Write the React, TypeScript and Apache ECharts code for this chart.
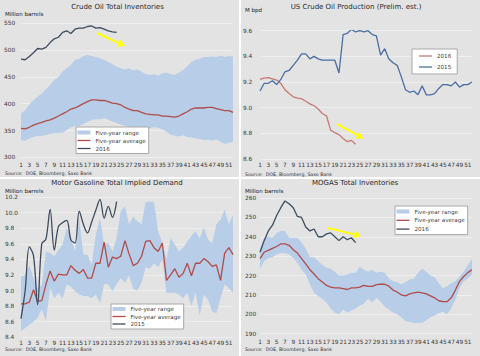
import React, { useEffect, useRef } from "react";
import * as echarts from "echarts";

const weeks = ["1","2","3","4","5","6","7","8","9","10","11","12","13","14","15","16","17","18","19","20","21","22","23","24","25","26","27","28","29","30","31","32","33","34","35","36","37","38","39","40","41","42","43","44","45","46","47","48","49","50","51","52"];

// Panel 1: Crude Oil Total Inventories (million barrels)
const crude2016 = [483, 482, 488, 495, 503, 502, 505, 514, 521, 524, 533, 536, 531, 539, 541, 541, 544, 545, 541, 542, 539, 536, 534, 533];
const crudeHigh = [382, 388, 398, 407, 413, 419, 427, 435, 444, 450, 460, 466, 472, 482, 484, 489, 491, 489, 487, 485, 482, 478, 474, 469, 466, 464, 466, 462, 464, 460, 455, 454, 455, 452, 457, 458, 455, 454, 458, 463, 470, 478, 482, 484, 487, 487, 488, 487, 490, 487, 489, 488];
const crudeLow = [332, 331, 335, 338, 340, 340, 341, 344, 345, 346, 346, 351, 356, 358, 358, 362, 366, 370, 371, 371, 373, 370, 367, 364, 361, 359, 357, 356, 355, 354, 353, 354, 356, 355, 352, 348, 342, 340, 339, 341, 338, 337, 335, 334, 332, 333, 331, 333, 329, 325, 327, 329];
const crudeAvg = [354, 353, 356, 360, 363, 365, 368, 370, 373, 377, 381, 385, 390, 392, 396, 400, 404, 407, 407, 406, 406, 404, 401, 400, 398, 393, 390, 387, 387, 384, 381, 380, 379, 379, 377, 377, 376, 375, 377, 381, 385, 390, 392, 392, 392, 393, 393, 391, 389, 387, 387, 384];

// Panel 2: US Crude Oil Production (M bpd)
const prod2016 = [9.22, 9.23, 9.235, 9.225, 9.215, 9.19, 9.14, 9.11, 9.085, 9.075, 9.07, 9.05, 9.03, 9.015, 8.99, 8.955, 8.935, 8.825, 8.805, 8.79, 8.76, 8.735, 8.745, 8.715];
const prod2015 = [9.13, 9.19, 9.19, 9.21, 9.18, 9.22, 9.28, 9.29, 9.33, 9.37, 9.42, 9.42, 9.38, 9.40, 9.38, 9.37, 9.37, 9.37, 9.37, 9.27, 9.57, 9.58, 9.61, 9.59, 9.60, 9.59, 9.60, 9.57, 9.56, 9.41, 9.46, 9.38, 9.35, 9.33, 9.24, 9.14, 9.12, 9.13, 9.10, 9.17, 9.10, 9.10, 9.11, 9.15, 9.18, 9.18, 9.17, 9.20, 9.16, 9.18, 9.18, 9.20];

// Panel 3: Motor Gasoline Total Implied Demand (million barrels)
const gas2015 = [8.64, 9.0, 9.56, 9.45, 8.82, 9.6, 9.66, 10.04, 9.52, 9.82, 9.87, 9.9, 9.65, 9.61, 10.02, 9.85, 9.74, 9.88, 10.03, 10.17, 9.93, 10.08, 9.94, 10.14];
const gasHigh = [9.18, 9.20, 9.32, 9.16, 9.03, 9.07, 9.50, 9.48, 9.44, 9.52, 9.59, 9.80, 9.67, 9.50, 9.93, 9.46, 9.46, 9.33, 9.72, 9.93, 9.59, 9.61, 9.50, 9.67, 10.02, 10.08, 9.85, 9.95, 9.89, 9.85, 10.14, 10.14, 10.14, 9.76, 9.61, 9.40, 9.67, 9.59, 9.50, 9.55, 9.63, 9.70, 9.76, 9.67, 9.81, 9.65, 9.61, 9.85, 9.91, 10.04, 9.85, 9.97];
const gasLow = [8.48, 8.52, 8.56, 8.60, 8.65, 8.76, 8.61, 9.03, 8.90, 8.97, 8.90, 9.08, 9.05, 8.99, 8.95, 8.93, 8.93, 8.90, 8.95, 8.84, 9.08, 9.08, 8.99, 9.08, 9.16, 9.10, 9.20, 9.02, 9.00, 9.10, 9.30, 9.28, 9.35, 9.30, 9.40, 8.97, 8.97, 8.97, 8.95, 8.90, 8.97, 8.80, 8.97, 8.68, 8.95, 8.88, 8.73, 8.71, 8.90, 9.08, 9.03, 8.97];
const gasAvg = [8.83, 8.83, 8.85, 9.01, 8.86, 8.87, 9.08, 9.25, 9.12, 9.21, 9.20, 9.20, 9.32, 9.26, 9.22, 9.27, 9.16, 9.16, 9.35, 9.35, 9.62, 9.30, 9.43, 9.41, 9.44, 9.64, 9.47, 9.32, 9.35, 9.44, 9.63, 9.64, 9.55, 9.50, 9.61, 9.13, 9.20, 9.28, 9.17, 9.22, 9.35, 9.19, 9.35, 9.35, 9.41, 9.37, 9.31, 9.33, 9.13, 9.48, 9.55, 9.46];

// Panel 4: MOGAS Total Inventories (million barrels)
const mogas2016 = [232, 238, 243, 246, 251, 255, 258.5, 257, 255, 250.5, 250, 245, 243, 244, 240, 240, 241.5, 242, 240, 238, 240, 238.5, 239.5, 237];
const mogasHigh = [234, 239.5, 240, 239.5, 242, 243, 243, 239.5, 239.5, 239.5, 237, 234, 229.5, 229.5, 227.5, 225.5, 224, 223.5, 222, 220, 220, 220.5, 221.5, 221.5, 224.5, 223, 222, 223, 221.5, 222, 221.5, 218.5, 217, 216.5, 215.5, 216.5, 218, 218.5, 221.5, 223.5, 222, 220, 219, 216, 213.5, 214.5, 216, 217, 219.5, 222, 225.5, 228.5];
const mogasLow = [223.5, 227.5, 229, 229.5, 231, 231.5, 231.5, 231, 229, 226.5, 223, 220.5, 215.5, 211, 209.5, 208, 206, 203, 201, 200, 202.5, 201, 202, 203, 204.5, 205.5, 208, 206, 208.5, 206.5, 204, 202.5, 201, 200, 198.5, 196.5, 196, 195.5, 195.5, 195.5, 197, 198.5, 199.5, 200.5, 201.5, 200, 203, 207.5, 213.5, 217, 218.5, 220.5];
const mogasAvg = [228.7, 232, 233, 234, 235, 236.3, 236.3, 235.6, 233.3, 231.6, 228.7, 226, 223, 220.8, 218.4, 216.7, 214.9, 214, 213.6, 213.6, 213.2, 212.8, 213.6, 213.6, 214, 214.9, 214.4, 214.4, 215.3, 215.6, 215.5, 214.5, 212.5, 211.5, 210, 209.5, 210.5, 211, 211.5, 211, 210.5, 209.5, 208.5, 207, 206.5, 206.5, 208.5, 212.5, 217, 219.5, 221.5, 223];

const titles = ["Crude Oil Total Inventories", "US Crude Oil Production (Prelim. est.)", "Motor Gasoline Total Implied Demand", "MOGAS Total Inventories"];
const units = ["Million barrels", "M bpd", "Million barrels", "Million barrels"];
const sourceText = "Source:  DOE, Bloomberg, Saxo Bank";

const BAND = "#b8cde7";
const AVG = "#b04c4a";
const DARK = "#3e4b5d";
const P2_2016 = "#c47a75";
const P2_2015 = "#4a6ea2";
const FONT = "DejaVu Sans";
const LINE_ICON = "path://M0,0H13V1.3H0Z";

function txt(text: string, x: number, y: number, size: number, align = "left", color = "#303030", weight = "normal") {
  return {
    type: "text",
    x,
    y,
    z: 50,
    style: {
      text,
      fill: color,
      font: `${weight} ${size}px "${FONT}"`,
      align,
      verticalAlign: "middle",
      textAlign: align,
      textVerticalAlign: "middle",
    },
  };
}

function arrow(x1: number, y1: number, x2: number, y2: number) {
  const a = Math.atan2(y2 - y1, x2 - x1);
  const L = 7, W = 4;
  const bx = x2 - L * Math.cos(a), by = y2 - L * Math.sin(a);
  const px = -Math.sin(a) * W, py = Math.cos(a) * W;
  return [
    { type: "line", z: 60, shape: { x1, y1, x2: bx, y2: by }, style: { stroke: "#ffff00", lineWidth: 2 } },
    { type: "polygon", z: 60, shape: { points: [[x2, y2], [bx + px, by + py], [bx - px, by - py]] }, style: { fill: "#ffff00" } },
  ];
}

function bandSeries(idx: number, low: number[], high: number[]) {
  return [
    { type: "line", name: `lo|${idx}`, xAxisIndex: idx, yAxisIndex: idx, data: low, stack: `band${idx}`, symbol: "none", lineStyle: { opacity: 0, width: 0 }, silent: true, z: 1 },
    { type: "line", name: `Five-year range|${idx}`, xAxisIndex: idx, yAxisIndex: idx, data: high.map((h, i) => +(h - low[i]).toFixed(3)), stack: `band${idx}`, symbol: "none", color: BAND, itemStyle: { color: BAND }, lineStyle: { opacity: 0, width: 0 }, areaStyle: { color: BAND, opacity: 1 }, z: 1 },
  ];
}

function lineSeries(idx: number, name: string, data: number[], color: string, smooth: boolean | number = false) {
  return { type: "line", name: `${name}|${idx}`, xAxisIndex: idx, yAxisIndex: idx, data, symbol: "none", smooth, color, itemStyle: { color }, lineStyle: { color, width: 1.3 }, z: 3 };
}

const grids = [
  { left: 21, top: 23.3, width: 212, height: 134 },
  { left: 260, top: 30.7, width: 212, height: 128.3 },
  { left: 21, top: 197, width: 212, height: 140.3 },
  { left: 260, top: 198, width: 212, height: 135.7 },
];
const yRanges = [
  { min: 300, max: 550, interval: 50, dec: 0, margin: 17 },
  { min: 8.6, max: 9.6, interval: 0.2, dec: 1, margin: 17 },
  { min: 8.4, max: 10.2, interval: 0.2, dec: 1, margin: 16 },
  { min: 190, max: 260, interval: 10, dec: 0, margin: 15 },
];
const xMargins = [4.5, 2.5, 2.5, 5];

function legendBox(names: any[], left: number, top: number, padding: number[], gap: number) {
  return {
    show: true,
    orient: "vertical",
    left,
    top,
    padding,
    itemGap: gap,
    itemWidth: 13,
    itemHeight: 4,
    backgroundColor: "#ffffff",
    borderColor: "#a8a8a8",
    borderWidth: 1,
    selectedMode: false,
    data: names,
    formatter: (n: string) => n.split("|")[0],
    textStyle: { fontSize: 5.6, color: "#404040", fontFamily: FONT, padding: 0 },
  };
}

const rangeItem = (i: number) => ({ name: `Five-year range|${i}`, icon: "rect", itemStyle: { color: BAND, opacity: 1, borderWidth: 0 } });
const lineItem = (name: string, i: number, color: string) => ({ name: `${name}|${i}`, icon: LINE_ICON, itemStyle: { color, opacity: 1, borderWidth: 0 }, lineStyle: { opacity: 0, width: 0 } });

export default function App() {
  const ref = useRef<HTMLDivElement>(null);
  useEffect(() => {
    if (!ref.current) return;
    const chart = echarts.init(ref.current, undefined, { renderer: "svg" });
    const option: any = {
      animation: false,
      backgroundColor: "#e3e3e3",
      textStyle: { fontFamily: FONT },
      grid: grids,
      xAxis: grids.map((_, i) => ({
        type: "category",
        gridIndex: i,
        data: weeks,
        boundaryGap: false,
        axisLine: { show: false },
        axisTick: { show: false },
        splitLine: { show: false },
        axisLabel: { interval: 1, fontSize: 5.8, color: "#383838", margin: xMargins[i], fontFamily: FONT },
      })),
      yAxis: yRanges.map((r, i) => ({
        type: "value",
        gridIndex: i,
        min: r.min,
        max: r.max,
        interval: r.interval,
        axisLine: { show: false },
        axisTick: { show: false },
        splitLine: { show: true, lineStyle: { color: "#efefef", width: 1 } },
        axisLabel: { fontSize: 5.8, color: "#383838", align: "left", margin: r.margin, fontFamily: FONT, formatter: (v: number) => v.toFixed(r.dec) },
      })),
      legend: [
        legendBox([rangeItem(0), lineItem("Five-year average", 0, AVG), lineItem("2016", 0, DARK)], 76, 127, [2.5, 3, 2, 1.5], 2),
        legendBox([lineItem("2016", 1, P2_2016), lineItem("2015", 1, P2_2015)], 412, 49, [4, 6, 4, 7], 5),
        legendBox([rangeItem(2), lineItem("Five-year average", 2, AVG), lineItem("2015", 2, DARK)], 111, 304, [2, 3, 2, 1.5], 1.5),
        legendBox([rangeItem(3), lineItem("Five-year average", 3, AVG), lineItem("2016", 3, DARK)], 395, 206, [2.5, 3, 2.5, 1.5], 2.8),
      ],
      series: [
        ...bandSeries(0, crudeLow, crudeHigh),
        lineSeries(0, "Five-year average", crudeAvg, AVG),
        lineSeries(0, "2016", crude2016, DARK),
        lineSeries(1, "2016", prod2016, P2_2016),
        lineSeries(1, "2015", prod2015, P2_2015),
        ...bandSeries(2, gasLow, gasHigh),
        lineSeries(2, "Five-year average", gasAvg, AVG),
        lineSeries(2, "2015", gas2015, DARK, 0.35),
        ...bandSeries(3, mogasLow, mogasHigh),
        lineSeries(3, "Five-year average", mogasAvg, AVG),
        lineSeries(3, "2016", mogas2016, DARK),
      ],
      graphic: [
        { type: "line", z: 40, shape: { x1: 240, y1: 0, x2: 240, y2: 356 }, style: { stroke: "#ffffff", lineWidth: 2 } },
        { type: "line", z: 40, shape: { x1: 0, y1: 178, x2: 480, y2: 178 }, style: { stroke: "#ffffff", lineWidth: 2 } },
        txt(titles[0], 117.5, 6.5, 7, "center", "#2a2a2a"),
        txt(titles[1], 356, 6.5, 7, "center", "#2a2a2a"),
        txt(titles[2], 117, 183, 7, "center", "#2a2a2a"),
        txt(titles[3], 355, 183, 7, "center", "#2a2a2a"),
        txt(units[0], 5, 14, 5.5, "left", "#202020"),
        txt(units[1], 245, 10, 5.5, "left", "#202020"),
        txt(units[2], 5, 190.7, 5.5, "left", "#202020"),
        txt(units[3], 245, 190.7, 5.5, "left", "#202020"),
        txt(sourceText, 5, 173.3, 4.7, "left", "#303030"),
        txt(sourceText, 245, 174, 4.7, "left", "#303030"),
        txt(sourceText, 5, 349.7, 4.7, "left", "#303030"),
        txt(sourceText, 245, 349.7, 4.7, "left", "#303030"),
        ...arrow(97, 33, 125, 46),
        ...arrow(337, 124, 363.5, 138.5),
        ...arrow(328, 228, 361, 236),
      ],
    };
    chart.setOption(option);
    return () => chart.dispose();
  }, []);
  return <div ref={ref} style={{ position: "absolute", left: 0, top: 0, width: 480, height: 356 }} />;
}
